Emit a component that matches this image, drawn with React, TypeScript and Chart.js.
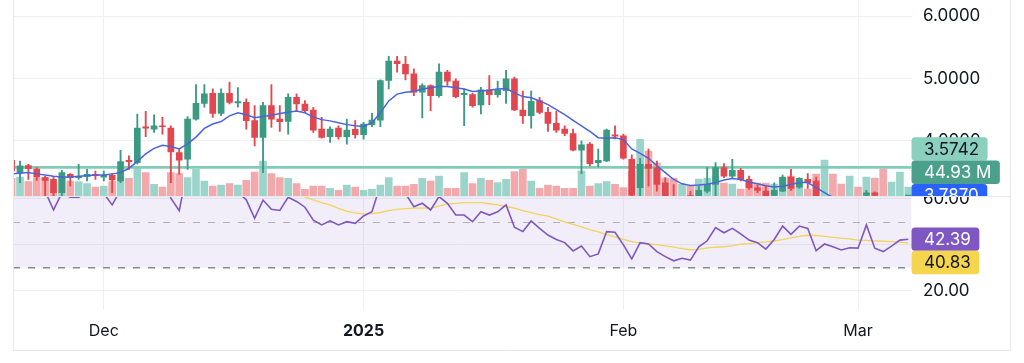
import React, { useEffect, useRef } from 'react';
import { Chart, registerables } from 'chart.js';

Chart.register(...registerables);

// ---------------- data ----------------
// day index relative to 1 Dec 2024 (first visible bar = 20 Nov 2024)
const FIRST_DAY = -11;
const MONTH_TICKS = [0, 31, 62, 90];
const MONTH_LABELS = ['Dec', '2025', 'Feb', 'Mar'];

const OPEN = [
  3.688, 3.489, 3.602, 3.548, 3.409, 3.382, 3.167, 3.462, 3.409, 3.430,
  3.462, 3.419, 3.446, 3.355, 3.688, 3.651, 4.226, 4.188, 4.242, 4.204,
  3.812, 3.704, 4.349, 4.602, 4.763, 4.441, 4.763, 4.610, 4.618, 4.323,
  4.054, 4.565, 4.349, 4.312, 4.699, 4.591, 4.495, 4.188, 4.065, 4.204,
  4.065, 4.183, 4.097, 4.258, 4.333, 4.968, 5.280, 5.226, 5.075, 4.780,
  4.887, 4.726, 5.102, 4.957, 4.742, 4.742, 4.575, 4.817, 4.742, 4.806,
  4.995, 4.495, 4.403, 4.645, 4.457, 4.280, 4.188, 4.118, 3.849, 3.946,
  3.651, 3.677, 4.097, 4.080, 3.704, 3.247, 3.624, 3.570, 3.328, 3.080,
  2.950, 3.120, 3.110, 3.194, 3.301, 3.570, 3.435, 3.527, 3.382, 3.247,
  3.194, 3.124, 3.194, 3.419, 3.258, 3.382, 3.355, 2.950, 3.020, 2.940,
  2.900, 3.000, 3.124, 3.167, 3.080, 2.980, 3.040, 3.060,
];
const HIGH = [
  3.720, 3.677, 3.624, 3.570, 3.430, 3.419, 3.527, 3.473, 3.624, 3.543,
  3.516, 3.516, 3.473, 3.849, 3.758, 4.430, 4.473, 4.419, 4.376, 4.242,
  3.866, 4.387, 4.903, 4.903, 4.833, 4.833, 4.941, 4.855, 4.672, 4.565,
  4.618, 4.903, 4.565, 4.753, 4.753, 4.645, 4.538, 4.376, 4.226, 4.242,
  4.349, 4.323, 4.296, 4.441, 4.978, 5.355, 5.355, 5.355, 5.156, 4.914,
  4.898, 5.237, 5.129, 4.995, 4.833, 4.763, 4.860, 5.048, 4.957, 5.129,
  5.022, 4.796, 4.796, 4.699, 4.538, 4.473, 4.242, 4.188, 4.000, 3.973,
  3.866, 4.188, 4.242, 4.108, 3.774, 3.720, 3.866, 3.677, 3.409, 3.300,
  3.080, 3.190, 3.270, 3.570, 3.651, 3.634, 3.704, 3.559, 3.435, 3.290,
  3.274, 3.328, 3.452, 3.543, 3.410, 3.473, 3.419, 3.050, 3.060, 3.000,
  3.050, 3.070, 3.204, 3.180, 3.080, 3.060, 3.090, 3.090,
];
const LOW = [
  3.489, 3.328, 3.382, 3.366, 3.086, 3.113, 3.113, 3.274, 3.382, 3.355,
  3.382, 3.355, 3.167, 3.328, 3.543, 3.624, 4.065, 4.134, 4.108, 3.328,
  3.462, 3.543, 4.333, 4.538, 4.376, 4.403, 4.591, 4.538, 4.188, 3.919,
  3.489, 4.215, 4.151, 4.108, 4.484, 4.457, 4.134, 4.043, 3.973, 4.027,
  3.946, 4.043, 4.027, 4.226, 4.226, 4.833, 5.102, 4.978, 4.726, 4.366,
  4.484, 4.699, 4.887, 4.688, 4.242, 4.538, 4.430, 4.581, 4.699, 4.602,
  4.484, 4.280, 4.204, 4.430, 4.151, 4.134, 4.081, 3.839, 3.473, 3.597,
  3.581, 3.667, 4.030, 3.704, 3.020, 3.100, 3.274, 3.194, 3.020, 2.980,
  2.920, 3.000, 3.050, 3.167, 3.113, 3.409, 3.409, 3.355, 3.220, 3.167,
  3.050, 3.060, 3.183, 3.204, 3.237, 3.237, 3.000, 2.880, 2.900, 2.860,
  2.870, 2.920, 3.050, 3.050, 2.950, 2.940, 3.000, 3.020,
];
const CLOSE = [
  3.516, 3.597, 3.554, 3.419, 3.366, 3.167, 3.489, 3.409, 3.430, 3.462,
  3.441, 3.446, 3.371, 3.667, 3.667, 4.204, 4.204, 4.242, 4.226, 3.823,
  3.688, 4.349, 4.602, 4.753, 4.441, 4.763, 4.618, 4.630, 4.323, 4.054,
  4.565, 4.349, 4.306, 4.699, 4.591, 4.484, 4.172, 4.054, 4.188, 4.065,
  4.172, 4.097, 4.269, 4.333, 4.968, 5.280, 5.237, 5.075, 4.780, 4.887,
  4.726, 5.102, 4.957, 4.710, 4.763, 4.565, 4.817, 4.742, 4.817, 4.995,
  4.495, 4.403, 4.634, 4.457, 4.280, 4.172, 4.118, 3.849, 3.935, 3.634,
  3.688, 4.172, 4.075, 3.720, 3.130, 3.624, 3.559, 3.301, 3.113, 3.010,
  3.040, 3.050, 3.204, 3.301, 3.570, 3.435, 3.527, 3.382, 3.247, 3.204,
  3.110, 3.204, 3.419, 3.237, 3.398, 3.328, 3.080, 3.020, 2.940, 2.900,
  3.000, 2.960, 3.167, 3.124, 3.000, 3.040, 3.060, 3.070,
];
// volume, millions
const VOLUME = [
  88, 95, 72, 88, 92, 67, 95, 75, 72, 62,
  45, 50, 72, 92, 88, 142, 117, 58, 45, 117,
  112, 92, 133, 75, 50, 55, 62, 55, 78, 120,
  175, 112, 92, 88, 62, 33, 50, 50, 38, 28,
  55, 45, 28, 33, 55, 92, 50, 50, 58, 88,
  75, 100, 38, 38, 117, 62, 88, 78, 67, 83,
  122, 133, 75, 38, 55, 50, 38, 38, 125, 50,
  62, 72, 58, 42, 125, 283, 225, 165, 90, 90,
  60, 50, 85, 90, 100, 65, 60, 35, 65, 65,
  65, 60, 90, 100, 85, 35, 110, 180, 110, 60,
  100, 45, 95, 90, 135, 70, 120, 44.93,
];
const MA = [
  3.47, 3.48, 3.49, 3.47, 3.45, 3.43, 3.42, 3.42, 3.43, 3.44,
  3.45, 3.45, 3.47, 3.49, 3.56, 3.67, 3.79, 3.88, 3.93, 3.91,
  3.87, 3.95, 4.06, 4.20, 4.27, 4.31, 4.40, 4.45, 4.42, 4.37,
  4.39, 4.41, 4.44, 4.46, 4.48, 4.45, 4.38, 4.34, 4.32, 4.29,
  4.26, 4.24, 4.23, 4.29, 4.45, 4.64, 4.75, 4.78, 4.79, 4.83,
  4.85, 4.87, 4.87, 4.85, 4.83, 4.79, 4.80, 4.81, 4.83, 4.84,
  4.77, 4.71, 4.69, 4.64, 4.58, 4.50, 4.42, 4.33, 4.24, 4.15,
  4.05, 4.04, 4.05, 4.02, 3.87, 3.80, 3.72, 3.60, 3.49, 3.38,
  3.31, 3.285, 3.29, 3.305, 3.33, 3.37, 3.395, 3.38, 3.34, 3.31,
  3.28, 3.26, 3.27, 3.30, 3.33, 3.33, 3.25, 3.17, 3.09, 3.04,
  3.00, 2.97, 2.95, 2.94, 2.93, 2.92, 2.92, 2.92,
];
const RSI = [
  65, 66, 64, 63.5, 63.2, 55.1, 62.5, 60.6, 60.7, 62.5,
  64, 62.2, 57.3, 63.8, 66, 75, 74, 75, 74, 60.2,
  54.8, 73, 72, 75, 70, 72, 70, 63, 59.5, 51.5,
  59.4, 55.4, 54.9, 60.6, 58.8, 56.3, 50.7, 48.6, 50.4, 48.6,
  50, 49.3, 52.5, 54.3, 66, 78, 76, 62.2, 56.5, 58,
  55.1, 60.9, 58, 52.9, 52.9, 50, 54.3, 52.9, 54.3, 57.3,
  47.6, 45.7, 50.3, 47.1, 44.2, 42.3, 40.9, 37.3, 39.4, 34.8,
  36, 45.7, 45.4, 39.9, 33.8, 40.9, 40.3, 37, 34.8, 33,
  34.1, 33.3, 39.1, 41.7, 47.4, 45.2, 47.1, 44.7, 42, 40.9,
  38.1, 42.3, 48.1, 44.5, 48.1, 47.1, 37.4, 40.3, 39.1, 37.7,
  38.7, 38.5, 48.6, 38.5, 37, 39.4, 42, 42.39,
];
const RSI_MA = [
  65.2, 65.0, 64.9, 64.6, 64.3, 63.9, 63.8, 63.6, 63.5, 63.4,
  63.3, 63.2, 63.1, 63.2, 63.3, 63.6, 63.9, 64.2, 64.4, 64.3,
  64.2, 64.4, 64.7, 65.0, 65.1, 65.0, 64.6, 64.2, 63.9, 63.6,
  63.3, 63.1, 62.9, 62.7, 62.3, 60.8, 59.5, 58.3, 57.3, 55.8,
  54.5, 53.8, 53.3, 53.5, 54.0, 54.8, 55.4, 55.7, 55.9, 55.9,
  55.9, 56.8, 57.7, 58.0, 58.3, 58.3, 58.3, 57.8, 57.3, 56.6,
  55.9, 54.8, 53.9, 53.1, 52.4, 51.2, 49.9, 48.8, 47.7, 46.6,
  45.6, 44.4, 43.4, 42.3, 41.3, 40.8, 40.3, 40.0, 39.5, 38.9,
  38.3, 37.8, 38.0, 38.6, 38.9, 39.1, 39.5, 40.2, 40.5, 40.9,
  41.2, 41.6, 42.2, 43.0, 43.6, 44.1, 44.0, 43.6, 43.2, 42.9,
  42.5, 42.0, 41.9, 41.7, 41.5, 41.3, 41.1, 40.83,
];

const PRICE_LINE = 3.5742;
const LAST_PRICE = 3.787;
const VOLUME_TAG = '44.93 M';
const PRICE_TICKS = [4, 5, 6];
const RSI_TICKS = [20, 40, 60];
const RSI_UPPER = 70;
const RSI_MIDDLE = 50;
const RSI_LOWER = 30;

// ---------------- view settings ----------------
const X_MIN = -10.835;
const X_MAX = 96.38;
const PRICE_MIN = 3.115;
const PRICE_MAX = 6.259;
const VOL_MAX = 980;
const RSI_MIN = 11.61;
const RSI_MAX = 61.17;

const FONT = 'Inter, "Noto Sans", "DejaVu Sans", sans-serif';
const TEXT = '#131722';
const GRID = '#eef0f3';
const FRAME = '#e6e8ec';
const UP = '#3a9a82';
const DOWN = '#e2474f';
const UP_VOL = '#9bd4cb';
const DOWN_VOL = '#f3a9ab';
const AXIS_W = 112.5;
const TAG_H = 23.3;

const DAYS = CLOSE.map((_, k) => FIRST_DAY + k);
const isUp = (k: number) => CLOSE[k] >= OPEN[k];

function drawTag(ctx: CanvasRenderingContext2D, x: number, top: number, text: string, bg: string, fg: string) {
  ctx.font = `17px ${FONT}`;
  const w = ctx.measureText(text).width + 21;
  ctx.fillStyle = bg;
  ctx.beginPath();
  (ctx as any).roundRect(x, top, w, TAG_H, 3.5);
  ctx.fill();
  ctx.fillStyle = fg;
  ctx.textAlign = 'left';
  ctx.textBaseline = 'middle';
  ctx.fillText(text, x + 12.5, top + TAG_H / 2 + 0.5);
}

function xAxis(showLabels: boolean) {
  return {
    type: 'linear',
    min: X_MIN,
    max: X_MAX,
    offset: false,
    afterBuildTicks: (s: any) => { s.ticks = MONTH_TICKS.map((v) => ({ value: v })); },
    afterFit: (s: any) => { s.height = showLabels ? 53 : 0; s.paddingLeft = 0; s.paddingRight = 0; },
    grid: { color: GRID, drawTicks: false, offset: false, lineWidth: 1 },
    border: { display: false },
    ticks: {
      display: showLabels,
      autoSkip: false,
      maxRotation: 0,
      padding: 11.4,
      color: TEXT,
      font: (c: any) => ({ family: FONT, size: 16, weight: c.index === 1 ? 'bold' : 'normal' }),
      callback: (_v: any, i: number) => MONTH_LABELS[i],
    },
  };
}

const priceDecor = {
  id: 'priceDecor',
  afterDraw(chart: any) {
    const { ctx, chartArea: a } = chart;
    ctx.save();
    ctx.strokeStyle = FRAME;
    ctx.lineWidth = 1;
    ctx.beginPath();
    ctx.moveTo(a.left + 0.5, 0); ctx.lineTo(a.left + 0.5, chart.height);
    ctx.moveTo(1010.5, 0); ctx.lineTo(1010.5, chart.height);
    ctx.stroke();
    let top = 137.3;
    drawTag(ctx, a.right, top, PRICE_LINE.toFixed(4), '#8bcfbf', TEXT);
    top += TAG_H;
    drawTag(ctx, a.right, top, VOLUME_TAG, '#4ba08c', '#ffffff');
    top += TAG_H;
    drawTag(ctx, a.right, top, LAST_PRICE.toFixed(4), '#2962ff', '#ffffff');
    ctx.restore();
  },
};

const rsiDecor = {
  id: 'rsiDecor',
  beforeDatasetsDraw(chart: any) {
    const { ctx, chartArea: a, scales } = chart;
    const y = scales.y;
    ctx.save();
    ctx.beginPath();
    ctx.rect(a.left, a.top, a.right - a.left, a.bottom - a.top);
    ctx.clip();
    const yU = y.getPixelForValue(RSI_UPPER);
    const yL = y.getPixelForValue(RSI_LOWER);
    const yM = y.getPixelForValue(RSI_MIDDLE);
    ctx.fillStyle = 'rgba(126, 87, 194, 0.1)';
    ctx.fillRect(a.left, yU, a.right - a.left, yL - yU);
    ctx.setLineDash([7, 8]);
    ctx.strokeStyle = 'rgba(120, 123, 134, 0.55)';
    ctx.lineWidth = 1;
    ctx.beginPath();
    ctx.moveTo(a.left, Math.round(yM) + 0.5); ctx.lineTo(a.right, Math.round(yM) + 0.5);
    ctx.stroke();
    ctx.strokeStyle = '#878a94';
    ctx.lineWidth = 1.5;
    ctx.beginPath();
    ctx.moveTo(a.left, yL); ctx.lineTo(a.right, yL);
    ctx.stroke();
    ctx.restore();
  },
  afterDraw(chart: any) {
    const { ctx, chartArea: a, scales } = chart;
    ctx.save();
    ctx.strokeStyle = FRAME;
    ctx.lineWidth = 1;
    ctx.beginPath();
    ctx.moveTo(a.left + 0.5, 0); ctx.lineTo(a.left + 0.5, 154.5);
    ctx.moveTo(1010.5, 0); ctx.lineTo(1010.5, 154.5);
    ctx.moveTo(a.left, 154.5); ctx.lineTo(1010.5, 154.5);
    ctx.moveTo(a.left, 0.5); ctx.lineTo(1010.5, 0.5);
    ctx.stroke();
    const last = RSI.length - 1;
    const yc = scales.y.getPixelForValue(RSI[last]);
    const top = yc - TAG_H / 2;
    drawTag(ctx, a.right, top, RSI[last].toFixed(2), '#7e57c2', '#ffffff');
    drawTag(ctx, a.right, top + TAG_H, RSI_MA[last].toFixed(2), '#f5d54e', TEXT);
    ctx.restore();
  },
};

export default function App() {
  const priceRef = useRef<HTMLCanvasElement>(null);
  const rsiRef = useRef<HTMLCanvasElement>(null);

  useEffect(() => {
    Chart.defaults.font.family = FONT;
    const common: any = {
      responsive: false,
      animation: false,
      devicePixelRatio: 1,
      events: [],
      plugins: { legend: { display: false }, tooltip: { enabled: false } },
    };

    const price = new Chart(priceRef.current as HTMLCanvasElement, {
      type: 'line',
      data: {
        datasets: [
          {
            type: 'line',
            data: MA.map((v, k) => ({ x: DAYS[k], y: v })),
            borderColor: '#4a64dc',
            borderWidth: 1.5,
            pointRadius: 0,
            yAxisID: 'y',
            order: 0,
          },
          {
            type: 'bar',
            data: DAYS.map((d, k) => ({ x: d, y: [Math.min(OPEN[k], CLOSE[k]), Math.max(OPEN[k], CLOSE[k])] })),
            backgroundColor: DAYS.map((_, k) => (isUp(k) ? UP : DOWN)),
            barThickness: 6,
            minBarLength: 1,
            grouped: false,
            yAxisID: 'y',
            order: 1,
          },
          {
            type: 'bar',
            data: DAYS.map((d, k) => ({ x: d, y: [LOW[k], HIGH[k]] })),
            backgroundColor: DAYS.map((_, k) => (isUp(k) ? UP : DOWN)),
            barThickness: 1.2,
            grouped: false,
            yAxisID: 'y',
            order: 2,
          },
          {
            type: 'line',
            data: [{ x: X_MIN, y: PRICE_LINE }, { x: X_MAX, y: PRICE_LINE }],
            borderColor: '#82cbb9',
            borderWidth: 2.6,
            pointRadius: 0,
            yAxisID: 'y',
            order: 3,
          },
          {
            type: 'bar',
            data: DAYS.map((d, k) => ({ x: d, y: VOLUME[k] })),
            backgroundColor: DAYS.map((_, k) => (isUp(k) ? UP_VOL : DOWN_VOL)),
            barThickness: 7,
            grouped: false,
            yAxisID: 'vol',
            order: 4,
          },
        ] as any,
      },
      options: {
        ...common,
        layout: { padding: { left: 13, right: 0, top: 0, bottom: 0 } },
        scales: {
          x: xAxis(false) as any,
          y: {
            type: 'linear',
            position: 'right',
            min: PRICE_MIN,
            max: PRICE_MAX,
            afterBuildTicks: (s: any) => { s.ticks = PRICE_TICKS.map((v) => ({ value: v })); },
            afterFit: (s: any) => { s.width = AXIS_W; s.paddingTop = 0; s.paddingBottom = 0; },
            grid: { color: GRID, drawTicks: false },
            border: { display: false },
            ticks: {
              padding: 11.5,
              color: TEXT,
              font: { family: FONT, size: 17 },
              callback: (v: any) => Number(v).toFixed(4),
            },
          } as any,
          vol: {
            type: 'linear',
            axis: 'y',
            position: 'left',
            display: false,
            min: 0,
            max: VOL_MAX,
          } as any,
        },
      },
      plugins: [priceDecor],
    });

    const rsi = new Chart(rsiRef.current as HTMLCanvasElement, {
      type: 'line',
      data: {
        datasets: [
          {
            data: RSI.map((v, k) => ({ x: DAYS[k], y: v })),
            borderColor: '#7e57c2',
            borderWidth: 1.6,
            pointRadius: 0,
            order: 0,
          },
          {
            data: RSI_MA.map((v, k) => ({ x: DAYS[k], y: v })),
            borderColor: '#f2d35b',
            borderWidth: 1.3,
            pointRadius: 0,
            order: 1,
          },
        ] as any,
      },
      options: {
        ...common,
        layout: { padding: { left: 13, right: 0, top: 0, bottom: 0 } },
        scales: {
          x: xAxis(true) as any,
          y: {
            type: 'linear',
            position: 'right',
            min: RSI_MIN,
            max: RSI_MAX,
            afterBuildTicks: (s: any) => { s.ticks = RSI_TICKS.map((v) => ({ value: v })); },
            afterFit: (s: any) => { s.width = AXIS_W; s.paddingTop = 0; s.paddingBottom = 0; },
            grid: { color: GRID, drawTicks: false },
            border: { display: false },
            ticks: {
              padding: 11.5,
              color: TEXT,
              font: { family: FONT, size: 17 },
              callback: (v: any) => Number(v).toFixed(2),
            },
          } as any,
        },
      },
      plugins: [rsiDecor],
    });

    return () => {
      price.destroy();
      rsi.destroy();
    };
  }, []);

  return (
    <div style={{ position: 'fixed', left: 0, top: 0, width: 1024, height: 363, background: '#ffffff', overflow: 'hidden' }}>
      <canvas ref={priceRef} width={1024} height={196} style={{ position: 'absolute', left: 0, top: 0, width: 1024, height: 196, display: 'block' }} />
      <canvas ref={rsiRef} width={1024} height={167} style={{ position: 'absolute', left: 0, top: 196, width: 1024, height: 167, display: 'block' }} />
    </div>
  );
}
